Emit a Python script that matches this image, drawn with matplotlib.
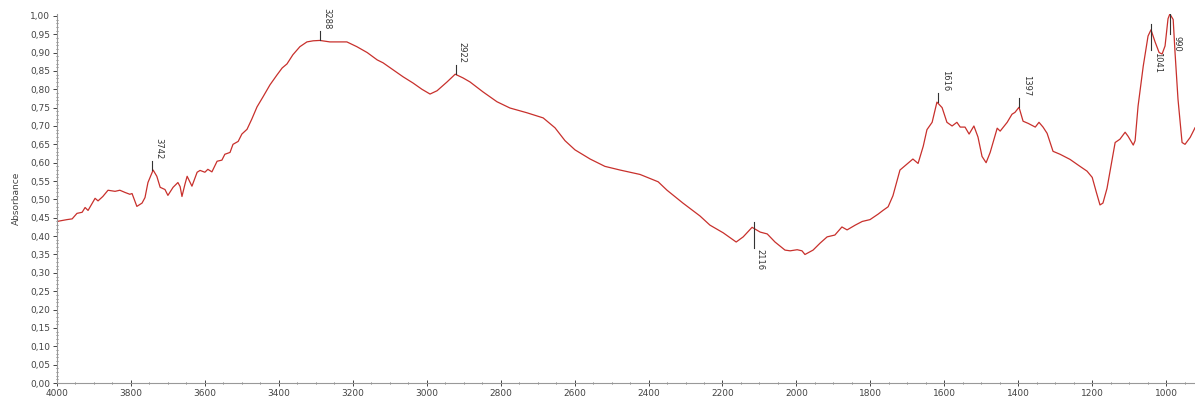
import matplotlib
matplotlib.use("Agg")
import matplotlib.pyplot as plt
from matplotlib.ticker import MultipleLocator, FuncFormatter

# spectrum (wavenumber cm-1, absorbance)
wavenumber = [4000, 3973, 3959, 3946, 3932, 3924, 3916, 3897, 3889, 3876, 3862, 3843, 3830,
              3816, 3803, 3797, 3784, 3770, 3762, 3754, 3740, 3730, 3721, 3708, 3700, 3686,
              3673, 3667, 3662, 3654, 3648, 3635, 3621, 3613, 3600, 3592, 3581, 3567, 3554,
              3546, 3532, 3524, 3510, 3500, 3486, 3473, 3459, 3443, 3424, 3405, 3391, 3378,
              3362, 3343, 3324, 3307, 3289, 3262, 3216, 3189, 3161, 3134, 3118, 3091, 3064,
              3037, 3013, 2991, 2972, 2945, 2923, 2902, 2883, 2848, 2810, 2775, 2729, 2685,
              2653, 2626, 2599, 2558, 2518, 2477, 2423, 2401, 2374, 2350, 2307, 2261, 2234,
              2198, 2163, 2144, 2120, 2098, 2079, 2058, 2031, 2017, 1998, 1985, 1977, 1955,
              1936, 1917, 1896, 1877, 1863, 1841, 1822, 1801, 1779, 1766, 1752, 1739, 1728,
              1720, 1685, 1671, 1657, 1647, 1633, 1620, 1606, 1593, 1579, 1566, 1557, 1544,
              1533, 1520, 1509, 1498, 1487, 1476, 1457, 1449, 1430, 1417, 1409, 1398, 1387,
              1373, 1354, 1344, 1333, 1322, 1306, 1287, 1260, 1233, 1214, 1200, 1189, 1179,
              1171, 1160, 1146, 1138, 1125, 1111, 1103, 1089, 1084, 1076, 1062, 1049, 1041,
              1030, 1019, 1011, 1003, 995, 990, 981, 976, 968, 957, 949, 935, 922]
absorbance = [0.440, 0.445, 0.447, 0.462, 0.465, 0.478, 0.470, 0.503, 0.496, 0.508, 0.525, 0.522, 0.525,
              0.519, 0.514, 0.516, 0.481, 0.490, 0.505, 0.546, 0.580, 0.563, 0.533, 0.527, 0.511, 0.533,
              0.546, 0.535, 0.508, 0.541, 0.563, 0.536, 0.574, 0.579, 0.574, 0.582, 0.575, 0.604, 0.607,
              0.623, 0.628, 0.650, 0.658, 0.678, 0.691, 0.719, 0.752, 0.779, 0.812, 0.839, 0.858, 0.869,
              0.894, 0.916, 0.929, 0.932, 0.933, 0.929, 0.929, 0.916, 0.900, 0.880, 0.872, 0.853, 0.834,
              0.817, 0.800, 0.787, 0.796, 0.820, 0.841, 0.831, 0.820, 0.793, 0.766, 0.749, 0.736, 0.722,
              0.695, 0.660, 0.635, 0.610, 0.590, 0.580, 0.568, 0.559, 0.548, 0.525, 0.490, 0.455, 0.430,
              0.409, 0.384, 0.398, 0.424, 0.411, 0.406, 0.384, 0.362, 0.360, 0.363, 0.360, 0.350, 0.362,
              0.381, 0.398, 0.403, 0.425, 0.417, 0.430, 0.440, 0.445, 0.460, 0.470, 0.480, 0.510, 0.550,
              0.580, 0.610, 0.598, 0.645, 0.690, 0.710, 0.765, 0.750, 0.710, 0.700, 0.710, 0.697, 0.697,
              0.678, 0.700, 0.670, 0.617, 0.600, 0.628, 0.694, 0.686, 0.710, 0.732, 0.737, 0.751, 0.713,
              0.707, 0.697, 0.710, 0.697, 0.680, 0.631, 0.623, 0.609, 0.590, 0.577, 0.560, 0.520, 0.485,
              0.490, 0.530, 0.609, 0.655, 0.664, 0.683, 0.672, 0.648, 0.660, 0.754, 0.863, 0.945, 0.962,
              0.929, 0.900, 0.896, 0.918, 0.992, 1.005, 0.990, 0.900, 0.773, 0.655, 0.650, 0.669, 0.695]

# peak labels: wavenumber, absorbance at peak, label above (True) or below (False)
peak_wn = [3742, 3288, 2922, 2116, 1616, 1397, 1041, 990]
peak_abs = [0.580, 0.933, 0.841, 0.424, 0.765, 0.751, 0.962, 1.005]
peak_up = [True, True, True, False, True, True, False, False]

fig = plt.figure(figsize=(11.95, 4.01), dpi=100)
ax = fig.add_axes([57 / 1195, 18 / 401, 1138 / 1195, 369 / 401])

ax.plot(wavenumber, absorbance, color="#c8302c", lw=0.9)

for wn, a, up in zip(peak_wn, peak_abs, peak_up):
    if up:
        ax.plot([wn, wn], [a, a + 0.025], color="#333333", lw=0.8)
        ax.text(wn - 6, a + 0.03, str(wn), rotation=270, fontsize=6,
                ha="left", va="bottom", color="#333333")
    else:
        ax.plot([wn, wn], [a + 0.015, a - 0.055], color="#333333", lw=0.8)
        ax.text(wn - 6, a - 0.06, str(wn), rotation=270, fontsize=6,
                ha="left", va="top", color="#333333")

ax.set_xlim(4000, 922)
ax.set_ylim(0, 1.005)

ax.xaxis.set_major_locator(MultipleLocator(200))
ax.xaxis.set_minor_locator(MultipleLocator(50))
ax.yaxis.set_major_locator(MultipleLocator(0.05))
ax.yaxis.set_minor_locator(MultipleLocator(0.01))
ax.yaxis.set_major_formatter(FuncFormatter(lambda v, p: f"{v:.2f}".replace(".", ",")))

for s in ["top", "right"]:
    ax.spines[s].set_visible(False)
for s in ["left", "bottom"]:
    ax.spines[s].set_color("#999999")
    ax.spines[s].set_linewidth(0.8)

ax.tick_params(axis="both", which="major", labelsize=6.5, colors="#444444",
               direction="inout", length=4, width=0.7, pad=2)
ax.tick_params(axis="both", which="minor", colors="#666666",
               direction="inout", length=2, width=0.6)
ax.tick_params(axis="y", which="major", direction="out", length=3)

ax.set_ylabel("Absorbance", fontsize=6.5, color="#444444")
ax.yaxis.set_label_coords(-36 / 1138, 0.5)

fig.savefig("out.png", dpi=100)
